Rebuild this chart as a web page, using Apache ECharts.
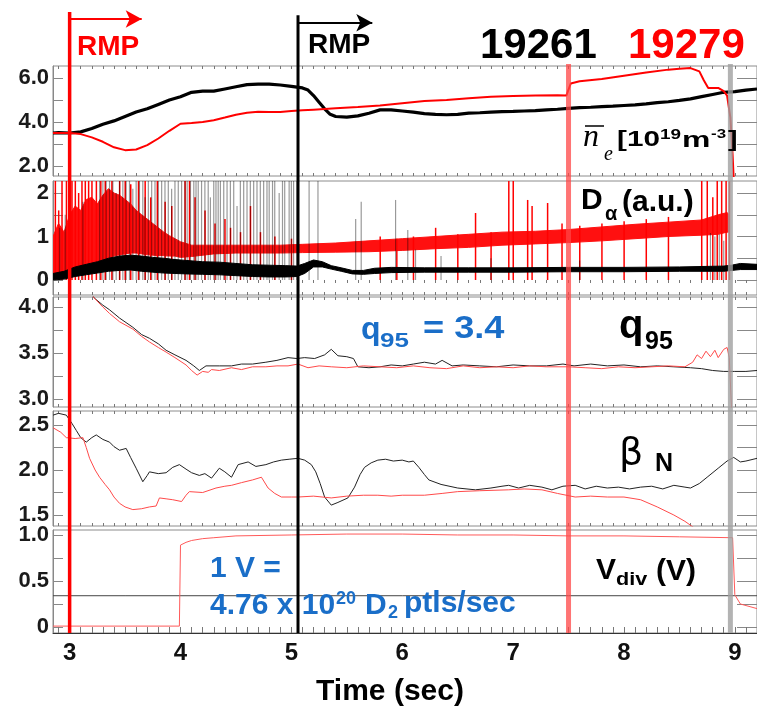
<!DOCTYPE html>
<html><head><meta charset="utf-8">
<script src="https://cdn.jsdelivr.net/npm/echarts@6/dist/echarts.min.js"></script>
<style>html,body{margin:0;padding:0;background:#fff}#c{width:757px;height:707px}</style>
</head><body><div id="c"></div>
<script>
// ---------------- data (time in s, value) ----------------
const X_TICKS = [3, 4, 5, 6, 7, 8, 9];
const Y_TICKS_NE = [2, 4, 6];
const Y_TICKS_DA = [0, 1, 2];
const Y_TICKS_Q95 = [3.0, 3.5, 4.0];
const Y_TICKS_BN = [1.5, 2.0, 2.5];
const Y_TICKS_VDIV = [0, 0.5, 1.0];

// line-averaged density ne [1e19 m^-3]
const NE_19261 = [[2.85,3.5],[2.9,3.52],[3.0,3.5],[3.1,3.55],[3.2,3.7],[3.3,3.9],[3.4,4.05],[3.5,4.25],[3.6,4.45],[3.7,4.6],[3.8,4.8],[3.9,5.0],[4.0,5.15],[4.1,5.35],[4.2,5.4],[4.3,5.4],[4.4,5.5],[4.5,5.6],[4.6,5.7],[4.7,5.72],[4.8,5.72],[4.9,5.68],[5.0,5.62],[5.1,5.55],[5.15,5.45],[5.2,5.2],[5.25,4.9],[5.3,4.6],[5.35,4.35],[5.4,4.25],[5.5,4.22],[5.6,4.28],[5.7,4.4],[5.8,4.55],[5.9,4.55],[6.0,4.5],[6.1,4.45],[6.2,4.38],[6.3,4.35],[6.4,4.33],[6.5,4.35],[6.6,4.4],[6.7,4.42],[6.8,4.45],[6.9,4.47],[7.0,4.48],[7.1,4.5],[7.2,4.52],[7.3,4.55],[7.4,4.58],[7.5,4.62],[7.6,4.65],[7.7,4.67],[7.8,4.7],[7.9,4.72],[8.0,4.75],[8.1,4.78],[8.2,4.82],[8.3,4.88],[8.4,4.92],[8.5,4.98],[8.6,5.05],[8.7,5.15],[8.8,5.25],[8.9,5.35],[9.0,5.38],[9.1,5.45],[9.2,5.5]];
const NE_19279 = [[2.85,3.5],[2.9,3.5],[3.0,3.5],[3.1,3.45],[3.2,3.3],[3.3,3.1],[3.4,2.85],[3.5,2.72],[3.6,2.75],[3.7,2.95],[3.8,3.25],[3.9,3.6],[4.0,3.92],[4.1,3.95],[4.2,4.0],[4.3,4.08],[4.4,4.2],[4.5,4.33],[4.6,4.42],[4.7,4.47],[4.8,4.45],[4.9,4.45],[5.0,4.5],[5.1,4.53],[5.2,4.56],[5.4,4.62],[5.6,4.68],[5.8,4.75],[6.0,4.85],[6.2,4.95],[6.4,5.0],[6.6,5.08],[6.8,5.15],[7.0,5.18],[7.2,5.2],[7.4,5.22],[7.48,5.2],[7.52,5.75],[7.6,5.85],[7.8,5.95],[8.0,6.1],[8.2,6.25],[8.4,6.38],[8.5,6.42],[8.6,6.45],[8.68,6.3],[8.72,5.9],[8.76,5.55],[8.85,5.55],[8.9,5.4],[8.93,5.2],[8.96,4.2],[8.98,2.5],[8.99,1.4]];

// D-alpha baseline bands [t, low, high]
const DA_BAND_19261 = [[2.85,0.0,0.15],[2.95,0.02,0.2],[3.05,0.08,0.3],[3.15,0.12,0.36],[3.25,0.16,0.42],[3.35,0.2,0.5],[3.45,0.22,0.55],[3.55,0.23,0.57],[3.65,0.2,0.55],[3.75,0.18,0.52],[3.85,0.16,0.5],[3.95,0.15,0.47],[4.05,0.14,0.45],[4.2,0.13,0.42],[4.35,0.12,0.41],[4.5,0.1,0.38],[4.65,0.08,0.35],[4.8,0.07,0.34],[4.95,0.07,0.33],[5.05,0.08,0.32],[5.12,0.15,0.38],[5.2,0.3,0.46],[5.28,0.3,0.42],[5.36,0.25,0.33],[5.45,0.2,0.28],[5.55,0.14,0.22],[5.65,0.13,0.22],[5.75,0.15,0.27],[5.9,0.17,0.29],[6.2,0.18,0.28],[6.6,0.18,0.28],[7.0,0.18,0.28],[7.5,0.19,0.29],[8.0,0.19,0.29],[8.5,0.2,0.3],[8.9,0.2,0.32],[8.97,0.22,0.34],[9.05,0.24,0.38],[9.2,0.24,0.36]];
const DA_BAND_19279 = [[2.85,0.1,1.0],[2.9,0.12,1.3],[2.95,0.15,1.1],[3.0,0.2,1.5],[3.05,0.25,1.7],[3.1,0.3,1.6],[3.15,0.35,1.85],[3.2,0.4,1.9],[3.25,0.42,1.75],[3.3,0.46,1.95],[3.35,0.5,2.1],[3.4,0.55,2.0],[3.45,0.58,1.95],[3.5,0.6,1.85],[3.55,0.62,1.75],[3.6,0.62,1.6],[3.65,0.6,1.5],[3.7,0.58,1.4],[3.75,0.57,1.3],[3.8,0.56,1.2],[3.85,0.56,1.1],[3.9,0.55,1.02],[3.95,0.55,0.95],[4.0,0.52,0.88],[4.1,0.54,0.8],[4.3,0.6,0.8],[4.5,0.62,0.8],[4.7,0.62,0.8],[4.9,0.62,0.8],[5.1,0.63,0.82],[5.4,0.64,0.85],[5.7,0.65,0.9],[6.0,0.68,0.95],[6.3,0.72,1.0],[6.6,0.75,1.05],[6.9,0.8,1.1],[7.2,0.83,1.12],[7.5,0.86,1.16],[7.8,0.9,1.22],[8.1,0.95,1.28],[8.4,1.0,1.33],[8.7,1.03,1.38],[8.85,1.05,1.5],[8.93,1.1,1.55],[8.95,1.1,1.5]];
// ELM spikes [t, peak]
const DA_SPIKES_19261 = [[2.91,1.2],[2.96,1.5],[3.12,1.8],[3.27,2.3],[3.3,2.3],[3.33,2.3],[3.36,2.3],[3.39,2.3],[3.42,2.0],[3.45,2.3],[3.48,2.3],[3.51,2.3],[3.54,2.3],[3.57,2.1],[3.6,2.3],[3.63,2.3],[3.66,2.3],[3.68,1.9],[3.71,2.3],[3.74,2.3],[3.77,2.3],[3.8,2.3],[3.83,2.3],[3.86,2.3],[3.89,2.3],[3.92,2.1],[3.95,2.3],[3.98,2.3],[4.01,2.3],[4.04,2.3],[4.06,2.3],[4.09,2.3],[4.12,2.3],[4.14,2.3],[4.16,2.3],[4.19,2.3],[4.22,2.3],[4.25,2.3],[4.27,1.9],[4.3,2.3],[4.32,2.3],[4.34,2.3],[4.36,2.3],[4.39,2.3],[4.42,2.3],[4.45,2.3],[4.48,2.3],[4.51,1.7],[4.54,2.3],[4.57,2.3],[4.6,2.3],[4.63,2.3],[4.66,2.3],[4.69,2.3],[4.72,2.3],[4.75,2.3],[4.78,2.3],[4.8,2.3],[4.83,2.3],[4.85,2.3],[4.89,2.0],[4.92,2.3],[4.94,2.3],[4.98,2.3],[5.0,2.3],[5.02,2.3],[5.05,2.3],[5.16,2.3],[5.24,2.3],[5.58,1.4],[5.63,1.8],[5.94,1.84],[6.05,1.15],[6.12,0.7],[6.35,0.55],[6.8,0.5],[7.6,0.45],[8.78,1.08],[8.82,1.0],[8.86,1.05],[8.9,0.9]];
const DA_SPIKES_19279 = [[2.87,2.3],[2.9,1.6],[2.93,2.3],[2.97,2.3],[3.02,2.3],[3.05,2.3],[3.08,2.0],[3.11,2.3],[3.14,2.3],[3.17,2.3],[3.2,2.3],[3.24,2.3],[3.28,2.3],[3.32,2.3],[3.38,2.3],[3.45,2.3],[3.5,2.3],[3.55,2.2],[3.62,2.3],[3.68,2.3],[3.73,1.9],[3.79,2.3],[3.86,1.8],[3.92,1.7],[4.04,2.3],[4.08,2.3],[4.13,1.9],[4.22,1.6],[4.31,1.3],[4.4,1.4],[4.45,1.2],[4.54,1.1],[4.63,1.7],[4.72,1.1],[4.85,1.0],[5.0,0.95],[5.8,1.0],[5.95,0.95],[6.1,1.0],[6.3,1.2],[6.5,1.05],[6.66,1.54],[6.8,1.1],[6.96,2.3],[7.0,2.3],[7.13,1.84],[7.17,1.7],[7.31,1.77],[7.44,1.3],[7.6,1.25],[7.8,1.3],[8.0,1.35],[8.2,1.4],[8.4,1.45],[8.7,2.3],[8.75,2.3],[8.8,1.9],[8.84,2.3],[8.88,2.3],[8.92,2.3],[8.95,2.3]];

// q95
const Q95_19261 = [[3.2,4.15],[3.22,4.1],[3.3,4.02],[3.36,3.97],[3.45,3.88],[3.57,3.78],[3.65,3.7],[3.72,3.66],[3.8,3.6],[3.87,3.53],[3.95,3.48],[4.05,3.42],[4.12,3.36],[4.17,3.31],[4.23,3.36],[4.35,3.36],[4.46,3.36],[4.55,3.38],[4.65,3.38],[4.77,3.4],[4.87,3.42],[4.97,3.45],[5.05,3.44],[5.12,3.45],[5.21,3.44],[5.3,3.48],[5.36,3.54],[5.42,3.47],[5.5,3.46],[5.56,3.44],[5.6,3.35],[5.7,3.34],[5.8,3.35],[5.9,3.37],[6.0,3.36],[6.1,3.38],[6.2,3.4],[6.3,3.38],[6.36,3.42],[6.45,3.36],[6.55,3.37],[6.7,3.36],[6.85,3.35],[7.0,3.37],[7.15,3.36],[7.3,3.36],[7.45,3.38],[7.55,3.36],[7.7,3.38],[7.85,3.36],[8.0,3.37],[8.15,3.35],[8.3,3.36],[8.45,3.35],[8.6,3.34],[8.7,3.33],[8.8,3.31],[8.9,3.3],[9.0,3.3],[9.1,3.3],[9.2,3.31]];
const Q95_19279 = [[3.2,4.14],[3.22,4.1],[3.3,4.0],[3.36,3.93],[3.45,3.84],[3.57,3.76],[3.65,3.68],[3.72,3.62],[3.8,3.56],[3.87,3.51],[3.95,3.45],[4.05,3.37],[4.1,3.31],[4.15,3.26],[4.2,3.3],[4.25,3.29],[4.28,3.32],[4.35,3.31],[4.46,3.34],[4.55,3.32],[4.65,3.35],[4.77,3.35],[4.87,3.36],[4.97,3.36],[5.06,3.38],[5.15,3.34],[5.25,3.36],[5.36,3.35],[5.5,3.34],[5.65,3.36],[5.8,3.35],[5.95,3.34],[6.1,3.36],[6.25,3.34],[6.4,3.33],[6.55,3.36],[6.7,3.34],[6.85,3.35],[7.0,3.34],[7.15,3.36],[7.3,3.35],[7.5,3.35],[7.65,3.34],[7.8,3.33],[7.95,3.35],[8.1,3.34],[8.25,3.35],[8.4,3.36],[8.55,3.35],[8.62,3.4],[8.66,3.48],[8.7,3.44],[8.74,3.52],[8.78,3.46],[8.82,3.53],[8.85,3.45],[8.9,3.54],[8.93,3.56],[8.95,3.45],[8.97,2.9]];

// beta N
const BN_19261 = [[2.85,2.61],[2.9,2.63],[2.97,2.61],[3.02,2.52],[3.06,2.44],[3.1,2.36],[3.15,2.31],[3.2,2.36],[3.24,2.39],[3.3,2.34],[3.36,2.31],[3.4,2.26],[3.45,2.22],[3.51,2.24],[3.55,2.14],[3.6,2.02],[3.66,1.87],[3.7,1.94],[3.72,1.98],[3.8,1.96],[3.87,1.97],[3.93,2.03],[3.99,2.06],[4.05,2.01],[4.1,1.97],[4.17,1.94],[4.22,1.96],[4.28,1.91],[4.35,2.02],[4.4,1.98],[4.46,1.92],[4.52,2.06],[4.61,2.09],[4.68,2.04],[4.77,2.06],[4.84,2.09],[4.91,2.11],[4.98,2.12],[5.06,2.13],[5.12,2.11],[5.18,2.06],[5.22,1.98],[5.26,1.85],[5.3,1.7],[5.36,1.61],[5.42,1.64],[5.51,1.69],[5.57,1.81],[5.62,1.95],[5.66,2.03],[5.72,2.08],[5.78,2.11],[5.85,2.12],[5.92,2.1],[6.0,2.11],[6.06,2.09],[6.1,2.1],[6.15,2.03],[6.2,1.95],[6.24,1.89],[6.35,1.84],[6.5,1.8],[6.66,1.78],[6.8,1.8],[6.9,1.82],[6.96,1.83],[7.05,1.8],[7.15,1.83],[7.26,1.81],[7.35,1.78],[7.45,1.82],[7.56,1.83],[7.65,1.79],[7.75,1.82],[7.85,1.8],[7.95,1.81],[8.05,1.79],[8.15,1.81],[8.25,1.82],[8.35,1.79],[8.45,1.83],[8.55,1.81],[8.6,1.8],[8.68,1.85],[8.75,1.92],[8.85,2.02],[8.93,2.1],[8.99,2.14],[9.05,2.09],[9.1,2.1],[9.2,2.13]];
const BN_19279 = [[2.85,2.47],[2.92,2.42],[2.97,2.36],[3.05,2.35],[3.12,2.36],[3.15,2.25],[3.18,2.13],[3.23,2.0],[3.27,1.92],[3.32,1.84],[3.36,1.78],[3.4,1.7],[3.45,1.63],[3.5,1.59],[3.57,1.56],[3.65,1.57],[3.72,1.59],[3.78,1.6],[3.81,1.69],[3.87,1.68],[3.93,1.67],[4.01,1.65],[4.05,1.72],[4.08,1.76],[4.2,1.75],[4.32,1.8],[4.4,1.82],[4.46,1.83],[4.55,1.86],[4.65,1.89],[4.73,1.92],[4.79,1.8],[4.85,1.74],[4.91,1.7],[5.0,1.7],[5.06,1.7],[5.2,1.71],[5.36,1.69],[5.5,1.71],[5.65,1.72],[5.78,1.72],[5.9,1.71],[6.0,1.72],[6.2,1.72],[6.36,1.74],[6.5,1.76],[6.7,1.77],[6.96,1.78],[7.1,1.79],[7.26,1.78],[7.4,1.74],[7.56,1.7],[7.7,1.71],[7.85,1.7],[8.0,1.7],[8.15,1.67],[8.3,1.59],[8.45,1.5],[8.55,1.43],[8.63,1.36]];

// divertor gas valve voltage
const VDIV_19261 = [[2.85,0.34],[3.5,0.34],[4.5,0.34],[6.0,0.34],[7.5,0.34],[9.2,0.34]];
const VDIV_19279 = [[2.85,0.01],[3.99,0.01],[4.0,0.89],[4.05,0.92],[4.1,0.94],[4.2,0.96],[4.3,0.97],[4.5,0.99],[5.0,1.0],[5.5,1.01],[6.0,1.01],[6.5,1.0],[7.0,1.0],[7.5,0.99],[8.0,0.99],[8.5,0.98],[8.98,0.97],[9.0,0.35],[9.05,0.25],[9.2,0.2]];

// event markers (s)
const RMP_ON_19279 = 3.0, RMP_ON_19261 = 5.06, EVT_RED = 7.5, EVT_GRAY = 8.96;
const RMP_ARROW_END_19279 = 3.65, RMP_ARROW_END_19261 = 5.73;

// ---------------- layout ----------------
const X_MIN = 2.85, X_MAX = 9.2;
const LEFT = 53, RIGHT = -10;
const FONT = '"Liberation Sans", Arial, sans-serif';
const BLUE = '#1a6ec8';
const panels = [
  {top: 66,  bottom: 176, min: 1.545, max: 6.545, labels: Y_TICKS_NE, minor: [2,3,4,5,6], fmt: v => v.toFixed(1)},
  {top: 181, bottom: 295, min: -0.345, max: 2.276, labels: Y_TICKS_DA, minor: [0,0.5,1,1.5,2], fmt: v => String(Math.round(v))},
  {top: 297, bottom: 407, min: 2.913, max: 4.109, labels: Y_TICKS_Q95, minor: [3,3.25,3.5,3.75,4], fmt: v => v.toFixed(1)},
  {top: 411, bottom: 526, min: 1.378, max: 2.656, labels: Y_TICKS_BN, minor: [1.5,1.75,2,2.25,2.5], fmt: v => v.toFixed(1)},
  {top: 530, bottom: 633, min: -0.065, max: 1.054, labels: Y_TICKS_VDIV, minor: [0,0.25,0.5,0.75,1], fmt: v => v === 0 ? '0' : v.toFixed(1)}
];
const minorT = [];
for (let k = 29; k <= 91; k++) minorT.push(k / 10);

const grid = [], xAxis = [], yAxis = [];
panels.forEach((p) => {
  grid.push({left: LEFT, right: RIGHT, top: p.top, height: p.bottom - p.top, show: true, borderColor: '#8c8c8c', borderWidth: 1, backgroundColor: 'transparent'});
});
grid.push({left: LEFT, right: RIGHT, top: 0, height: 633, show: false});
const OV = 5;            // overlay grid index
const OVX = 10, OVY = 10; // overlay axis indices
panels.forEach((p, i) => {
  const last = i === panels.length - 1;
  xAxis.push({type: 'value', gridIndex: i, min: X_MIN, max: X_MAX, position: 'bottom',
    axisLine: {show: last, onZero: false, lineStyle: {color: '#333', width: 1}},
    splitLine: {show: false},
    axisTick: {show: true, inside: true, length: 3, customValues: minorT, lineStyle: {color: '#777'}},
    axisLabel: {show: last, customValues: X_TICKS, margin: 8, fontFamily: FONT, fontWeight: 'bold', fontSize: 24, color: '#111', formatter: v => String(v)}
  });
});
panels.forEach((p, i) => {
  xAxis.push({type: 'value', gridIndex: i, min: X_MIN, max: X_MAX, position: 'top',
    axisLine: {show: false}, splitLine: {show: false}, axisLabel: {show: false},
    axisTick: {show: true, inside: true, length: 3, customValues: minorT, lineStyle: {color: '#777'}}
  });
});
xAxis.push({type: 'value', gridIndex: OV, min: X_MIN, max: X_MAX, show: false});
panels.forEach((p, i) => {
  yAxis.push({type: 'value', gridIndex: i, min: p.min, max: p.max, position: 'left',
    axisLine: {show: true, onZero: false, lineStyle: {color: '#888'}}, splitLine: {show: false},
    axisTick: {show: true, inside: true, length: 10, customValues: p.minor, lineStyle: {color: '#888'}},
    axisLabel: {show: true, customValues: p.labels, margin: 4, fontFamily: FONT, fontWeight: 'bold', fontSize: 22, color: '#1a1a1a', formatter: p.fmt}
  });
});
panels.forEach((p, i) => {
  yAxis.push({type: 'value', gridIndex: i, min: p.min, max: p.max, position: 'right',
    axisLine: {show: false}, splitLine: {show: false}, axisLabel: {show: false},
    axisTick: {show: true, inside: true, length: 20, customValues: p.minor, lineStyle: {color: '#888'}}
  });
});
yAxis.push({type: 'value', gridIndex: OV, min: 0, max: 1, show: false});

const line = (gi, data, color, width, z) => ({type: 'line', xAxisIndex: gi, yAxisIndex: gi, data, symbol: 'none', lineStyle: {color, width}, z: z || 2, animation: false, silent: true});
// filled band between low and high envelopes, drawn as one polygon through the axes
const band = (gi, data, color, z) => ({
  type: 'custom', xAxisIndex: gi, yAxisIndex: gi, data: [[data[0][0], data[0][1]]], clip: true, silent: true, animation: false, z: z || 2,
  renderItem: (params, api) => {
    const up = data.map(d => api.coord([d[0], d[2]]));
    const lo = data.slice().reverse().map(d => api.coord([d[0], d[1]]));
    return {type: 'polygon', shape: {points: up.concat(lo)}, style: {fill: color, stroke: color, lineWidth: 1}};
  }
});
const spikes = (gi, data, color, w, z) => ({type: 'bar', xAxisIndex: gi, yAxisIndex: gi, data, barWidth: w, barGap: '-100%', itemStyle: {color}, z: z || 2, animation: false, silent: true});
const vline = (t, y0, y1, color, width) => ({type: 'line', xAxisIndex: OVX, yAxisIndex: OVY, data: [[t, y0], [t, y1]], symbol: 'none', lineStyle: {color, width}, z: 20, animation: false, silent: true});
const arrow = (t0, t1, y, color) => ({type: 'line', xAxisIndex: OVX, yAxisIndex: OVY, data: [], z: 20, animation: false, silent: true,
  markLine: {silent: true, animation: false, symbol: ['none', 'arrow'], symbolSize: [13, 16], label: {show: false},
    lineStyle: {color, width: 2, type: 'solid'}, data: [[{coord: [t0, y]}, {coord: [t1, y]}]]}});

const series = [
  line(0, NE_19261, '#000', 3.2),
  line(0, NE_19279, '#ff0000', 2, 3),
  band(1, DA_BAND_19279, '#ff1010', 2),
  spikes(1, DA_SPIKES_19279, '#ff0000', 1.5, 3),
  band(1, DA_BAND_19261, '#000', 4),
  spikes(1, DA_SPIKES_19261, 'rgba(0,0,0,0.4)', 1.2, 5),
  line(2, Q95_19261, '#222', 1),
  line(2, Q95_19279, '#ff4a4a', 1, 3),
  line(3, BN_19261, '#222', 1),
  line(3, BN_19279, '#ff4a4a', 1, 3),
  line(4, VDIV_19261, '#444', 1),
  line(4, VDIV_19279, '#ff5a5a', 1, 3),
  vline(RMP_ON_19279, 0, 0.981, '#ff0000', 3.5),
  vline(RMP_ON_19261, 0, 0.976, '#000', 3),
  vline(EVT_RED, 0, 0.899, 'rgba(255,70,70,0.75)', 5),
  vline(EVT_GRAY, 0, 0.899, 'rgba(160,160,160,0.8)', 5),
  arrow(RMP_ON_19279, RMP_ARROW_END_19279, 0.970, '#ff0000'),
  arrow(RMP_ON_19261, RMP_ARROW_END_19261, 0.964, '#000')
];

const T = (x, y, text, font, fill, align, sx) => ({type: 'text', x, y, scaleX: sx || 1, z: 100, silent: true,
  style: {text, font, fill: fill || '#000', align: align || 'left', verticalAlign: 'middle'}});
const B = s => 'bold ' + s + 'px ' + FONT;
const graphic = [
  T(77, 47, 'RMP', B(28), '#ff0000'),
  T(308, 45, 'RMP', B(28), '#000'),
  T(480, 46, '19261', B(42), '#000'),
  T(628, 46, '19279', B(42), '#ff0000'),
  // n_e label
  T(583, 138, 'n', 'italic 32px "Liberation Serif", serif', '#000'),
  {type: 'line', z: 100, silent: true, shape: {x1: 585, y1: 126, x2: 604, y2: 126}, style: {stroke: '#000', lineWidth: 1.5}},
  T(604, 155, 'e', 'italic 20px "Liberation Serif", serif', '#000'),
  T(617, 140, '[10', B(22), '#000', 'left', 1.35),
  T(660, 135, '19', B(14), '#000', 'left', 1.35),
  T(682, 141, 'm', B(22), '#000', 'left', 1.45),
  T(711, 134, '-3', B(13), '#000', 'left', 1.3),
  T(728, 140, ']', B(22), '#000', 'left', 1.3),
  // D alpha
  T(581, 201, 'D', B(30), '#000'),
  T(605, 214, 'α', B(20), '#000'),
  T(622, 203, '(a.u.)', B(30), '#000'),
  // q95 = 3.4
  T(361, 330, 'q', B(32), BLUE),
  T(380, 341, '95', B(20), BLUE, 'left', 1.3),
  T(423, 329, '= 3.4', B(32), BLUE, 'left', 1.13),
  // q95 label
  T(619, 327, 'q', B(40), '#000'),
  T(645, 342, '95', B(25), '#000'),
  // beta N
  T(619, 454, 'β', '38px "DejaVu Sans", sans-serif', '#000'),
  T(655, 464, 'N', B(25), '#000'),
  // Vdiv
  T(596, 571, 'V', B(30), '#000'),
  T(616, 580, 'div', B(18), '#000', 'left', 1.2),
  T(656, 572, '(V)', B(30), '#000'),
  // 1 V = ...
  T(210, 569, '1 V =', B(30), BLUE),
  T(210, 606, '4.76 x 10', B(30), BLUE),
  T(336, 599, '20', B(18), BLUE),
  T(365, 606, 'D', B(30), BLUE),
  T(388, 613, '2', B(18), BLUE),
  T(404, 604, 'ptls/sec', B(30), BLUE),
  // x axis title
  T(390, 692, 'Time (sec)', B(30), '#000', 'center')
];

const chart = echarts.init(document.getElementById('c'), null, {renderer: 'canvas'});
chart.setOption({animation: false, backgroundColor: '#fff', grid, xAxis, yAxis, series, graphic});
</script>
</body></html>
